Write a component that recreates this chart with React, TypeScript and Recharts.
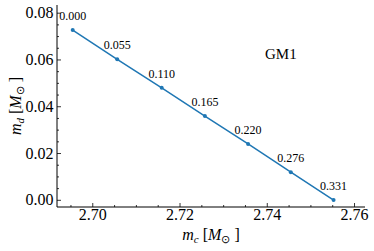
import React from 'react';
import { LineChart, Line, XAxis, YAxis, LabelList } from 'recharts';

// values
const mc = [2.6954, 2.7056, 2.7158, 2.7257, 2.7356, 2.7454, 2.7552];
const md = [0.0728, 0.0603, 0.0481, 0.036, 0.0241, 0.012, 0.0001];
const pointLabels = ['0.000', '0.055', '0.110', '0.165', '0.220', '0.276', '0.331'];

const xMajor = [2.7, 2.72, 2.74, 2.76];
const xTicks = [2.695, 2.7, 2.705, 2.71, 2.715, 2.72, 2.725, 2.73, 2.735, 2.74, 2.745, 2.75, 2.755, 2.76];
const yMajor = [0, 0.02, 0.04, 0.06, 0.08];
const yTicks = [0, 0.005, 0.01, 0.015, 0.02, 0.025, 0.03, 0.035, 0.04, 0.045, 0.05, 0.055, 0.06, 0.065, 0.07, 0.075, 0.08];

const xDomain = [2.6918, 2.7624];
const yDomain = [-0.00286, 0.0835];

const FONT = "'Liberation Serif', 'Times New Roman', serif";
const BLUE = '#1f77b4';

const data = mc.map((x, i) => ({ x, y: md[i], label: pointLabels[i] }));

const isMajor = (v: number, list: number[]) => list.some((m) => Math.abs(m - v) < 1e-9);

const BottomTick = (props: any) => {
  const { x, y, payload } = props;
  const major = isMajor(payload.value, xMajor);
  return (
    <g>
      <line x1={x} x2={x} y1={y} y2={y - (major ? 4 : 2)} stroke="#000" strokeWidth={0.8} />
      {major && (
        <text x={x} y={y + 13} textAnchor="middle" fontSize={16} fontFamily={FONT} fill="#000">
          {payload.value.toFixed(2)}
        </text>
      )}
    </g>
  );
};

const TopTick = (props: any) => {
  const { x, y, payload } = props;
  const major = isMajor(payload.value, xMajor);
  return <line x1={x} x2={x} y1={y} y2={y + (major ? 4 : 2)} stroke="#000" strokeWidth={0.8} />;
};

const LeftTick = (props: any) => {
  const { x, y, payload } = props;
  const major = isMajor(payload.value, yMajor);
  return (
    <g>
      <line x1={x} x2={x + (major ? 4 : 2)} y1={y} y2={y} stroke="#000" strokeWidth={0.8} />
      {major && (
        <text x={x - 3.5} y={y + 5} textAnchor="end" fontSize={16} fontFamily={FONT} fill="#000">
          {payload.value.toFixed(2)}
        </text>
      )}
    </g>
  );
};

const RightTick = (props: any) => {
  const { x, y, payload } = props;
  const major = isMajor(payload.value, yMajor);
  return <line x1={x} x2={x - (major ? 4 : 2)} y1={y} y2={y} stroke="#000" strokeWidth={0.8} />;
};

const XLabel = (props: any) => {
  const vb = props.viewBox;
  const cx = vb.x + vb.width / 2;
  return (
    <text x={cx} y={240} textAnchor="middle" fontSize={16} fontFamily={FONT} fill="#000">
      <tspan fontStyle="italic">m</tspan>
      <tspan fontSize={11} dy={3} fontStyle="italic">c</tspan>
      <tspan dy={-3}> [</tspan>
      <tspan fontStyle="italic">M</tspan>
      <tspan fontSize={11} dy={3}>⊙</tspan>
      <tspan dy={-3}> ]</tspan>
    </text>
  );
};

const YLabel = (props: any) => {
  const vb = props.viewBox;
  const cy = vb.y + vb.height / 2;
  return (
    <text x={21} y={cy} transform={`rotate(-90, 21, ${cy})`} textAnchor="middle" fontSize={16} fontFamily={FONT} fill="#000">
      <tspan fontStyle="italic">m</tspan>
      <tspan fontSize={11} dy={3} fontStyle="italic">d</tspan>
      <tspan dy={-3}> [</tspan>
      <tspan fontStyle="italic">M</tspan>
      <tspan fontSize={11} dy={3}>⊙</tspan>
      <tspan dy={-3}> ]</tspan>
    </text>
  );
};

export default function App() {
  return (
    <div style={{ position: 'absolute', left: 0, top: 0, width: 374, height: 251, background: '#fff' }}>
      <LineChart width={374} height={251} data={data} margin={{ top: 5, right: 9, bottom: 0, left: 0 }}>
        <XAxis
          xAxisId="bottom"
          dataKey="x"
          type="number"
          domain={xDomain}
          ticks={xTicks}
          interval={0}
          allowDataOverflow
          height={44}
          tickSize={0}
          tickMargin={0}
          tickLine={false}
          tick={<BottomTick />}
          axisLine={{ stroke: '#000', strokeWidth: 1 }}
          label={<XLabel />}
        />
        <XAxis
          xAxisId="top"
          orientation="top"
          type="number"
          domain={xDomain}
          ticks={xTicks}
          interval={0}
          allowDataOverflow
          height={0}
          tickSize={0}
          tickMargin={0}
          tickLine={false}
          tick={<TopTick />}
          axisLine={{ stroke: '#000', strokeWidth: 1 }}
        />
        <YAxis
          yAxisId="left"
          type="number"
          domain={yDomain}
          ticks={yTicks}
          interval={0}
          allowDataOverflow
          width={57}
          tickSize={0}
          tickMargin={0}
          tickLine={false}
          tick={<LeftTick />}
          axisLine={{ stroke: '#000', strokeWidth: 1 }}
          label={<YLabel />}
        />
        <YAxis
          yAxisId="right"
          orientation="right"
          type="number"
          domain={yDomain}
          ticks={yTicks}
          interval={0}
          allowDataOverflow
          width={0}
          tickSize={0}
          tickMargin={0}
          tickLine={false}
          tick={<RightTick />}
          axisLine={{ stroke: '#000', strokeWidth: 1 }}
        />
        <Line
          xAxisId="bottom"
          yAxisId="left"
          type="linear"
          dataKey="y"
          stroke={BLUE}
          strokeWidth={1.5}
          dot={{ r: 2, fill: BLUE, stroke: BLUE, strokeWidth: 0 }}
          activeDot={false}
          isAnimationActive={false}
        >
          <LabelList dataKey="label" position="top" offset={10} fontSize={12} fontFamily={FONT} fill="#000" />
        </Line>
      </LineChart>
      <div
        style={{
          position: 'absolute',
          left: 265,
          top: 47,
          fontFamily: FONT,
          fontSize: 15,
          lineHeight: '15px',
          color: '#000',
        }}
      >
        GM1
      </div>
    </div>
  );
}
